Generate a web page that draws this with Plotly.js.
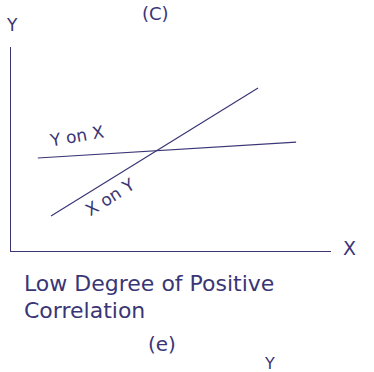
<!DOCTYPE html>
<html>
<head>
<meta charset="utf-8">
<script src="https://cdn.plot.ly/plotly-3.0.1.min.js"></script>
<style>
  html, body { margin: 0; padding: 0; background: #ffffff; }
  #chart { width: 374px; height: 372px; }
</style>
</head>
<body>
<div id="chart"></div>
<script>
// Regression lines for a low degree of positive correlation
const yOnX_x = [0.84, 8.91];
const yOnX_y = [4.56, 5.34];
const xOnY_x = [1.25, 7.72];
const xOnY_y = [1.72, 7.99];

const lineLabels = ["Y on X", "X on Y"];
const captionLines = ["Low Degree of Positive", "Correlation"];
const panelTags = ["(C)", "(e)"];

const ink = "#3a3676";
const font = "DejaVu Sans";

const traces = [
  { x: yOnX_x, y: yOnX_y, name: lineLabels[0], mode: "lines",
    line: { color: ink, width: 1.2 }, hoverinfo: "skip" },
  { x: xOnY_x, y: xOnY_y, name: lineLabels[1], mode: "lines",
    line: { color: ink, width: 1.2 }, hoverinfo: "skip" }
];

function note(text, x, y, size, opts) {
  return Object.assign({
    text: text, x: x, y: y, xref: "paper", yref: "paper",
    showarrow: false, font: { family: font, size: size, color: ink },
    xanchor: "center", yanchor: "middle"
  }, opts || {});
}

const layout = {
  width: 374, height: 372,
  margin: { l: 11, r: 43, t: 47, b: 121 },
  paper_bgcolor: "#ffffff", plot_bgcolor: "#ffffff",
  showlegend: false,
  xaxis: { range: [0, 10], showline: true, linecolor: ink, linewidth: 1.2,
           showgrid: false, zeroline: false, showticklabels: false, ticks: "" },
  yaxis: { range: [0, 10], showline: true, linecolor: ink, linewidth: 1.2,
           showgrid: false, zeroline: false, showticklabels: false, ticks: "" },
  annotations: [
    note(panelTags[0], 0.45, 1.165, 18),
    note("Y", 0.003, 1.108, 17),
    note("X", 1.059, 0.015, 19),
    note(lineLabels[0], 0.206, 0.564, 17, { textangle: -10 }),
    note(lineLabels[1], 0.31, 0.265, 17, { textangle: -32 }),
    note(captionLines[0], 0.034, -0.157, 22, { xanchor: "left" }),
    note(captionLines[1], 0.034, -0.29, 22, { xanchor: "left" }),
    note(panelTags[1], 0.472, -0.455, 20),
    note("Y", 0.809, -0.55, 16)
  ]
};

Plotly.newPlot("chart", traces, layout, { displayModeBar: false, staticPlot: true });
</script>
</body>
</html>
